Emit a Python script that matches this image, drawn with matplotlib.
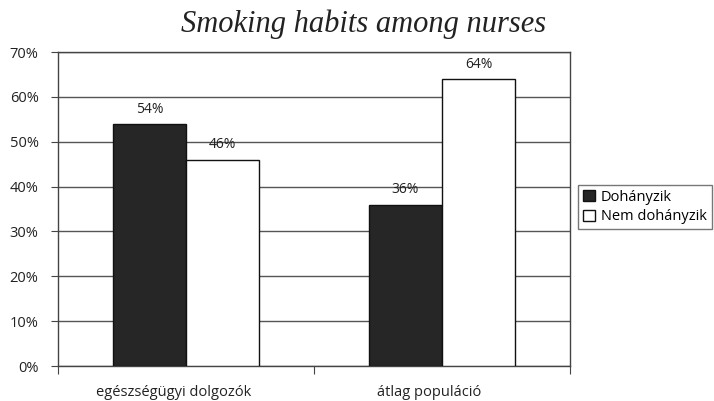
import matplotlib
matplotlib.use("Agg")
import matplotlib.pyplot as plt
import numpy as np

categories = ["egészségügyi dolgozók", "átlag populáció"]
smokers = [54, 36]
non_smokers = [46, 64]
series_names = ["Dohányzik", "Nem dohányzik"]
yticks = [0, 10, 20, 30, 40, 50, 60, 70]

plt.rcParams["font.family"] = ["Open Sans", "DejaVu Sans"]

fig = plt.figure(figsize=(7.14, 4.01), dpi=100)
ax = fig.add_axes([58 / 714, 1 - 366 / 401, 512 / 714, 314 / 401])

x = np.arange(len(categories))
w = 73 / 256
b1 = ax.bar(x - w / 2, smokers, width=w, color="#262626", edgecolor="#111111",
            linewidth=1.0, label=series_names[0], zorder=3)
b2 = ax.bar(x + w / 2, non_smokers, width=w, color="white", edgecolor="#111111",
            linewidth=1.0, label=series_names[1], zorder=3)

for bars, vals in ((b1, smokers), (b2, non_smokers)):
    for r, v in zip(bars, vals):
        ax.text(r.get_x() + r.get_width() / 2, v + 1.6, f"{v}%",
                ha="center", va="bottom", fontsize=10, color="#222222")

ax.set_xlim(-0.5, len(categories) - 0.5)
ax.set_ylim(0, 70)
ax.set_yticks(yticks)
ax.set_yticklabels([f"{t}%" for t in yticks], fontsize=10.5, color="#222222")
ax.yaxis.grid(True, color="#555555", linewidth=1.0, zorder=0)
ax.set_axisbelow(True)

# category labels sit between the boundary ticks
ax.set_xticks(np.arange(len(categories) + 1) - 0.5)
ax.set_xticklabels([])
ax.set_xticks(x - 0.05, minor=True)
ax.set_xticklabels(categories, minor=True, fontsize=10.5, color="#222222")
ax.tick_params(axis="x", which="minor", length=0, pad=14)
ax.tick_params(axis="x", which="major", length=6, color="#444444", direction="out")
ax.tick_params(axis="y", length=5, color="#444444", direction="out", pad=9)

for s in ax.spines.values():
    s.set_color("#444444")
    s.set_linewidth(1.0)

fig.text(364 / 714, 1 - 24 / 401, "Smoking habits among nurses", ha="center",
         va="center", fontsize=22, style="italic", family=["Liberation Serif", "DejaVu Serif"],
         color="#222222")

leg = fig.legend(handles=[b1, b2], labels=series_names, loc="center left",
                 bbox_to_anchor=(578 / 714, 1 - 207 / 401), fontsize=10.5,
                 frameon=True, fancybox=False, handlelength=0.8, handleheight=0.8,
                 handletextpad=0.4, borderpad=0.35, labelspacing=0.3, borderaxespad=0)
leg.get_frame().set_edgecolor("#555555")
leg.get_frame().set_linewidth(1.0)

fig.savefig("out.png", dpi=100)
